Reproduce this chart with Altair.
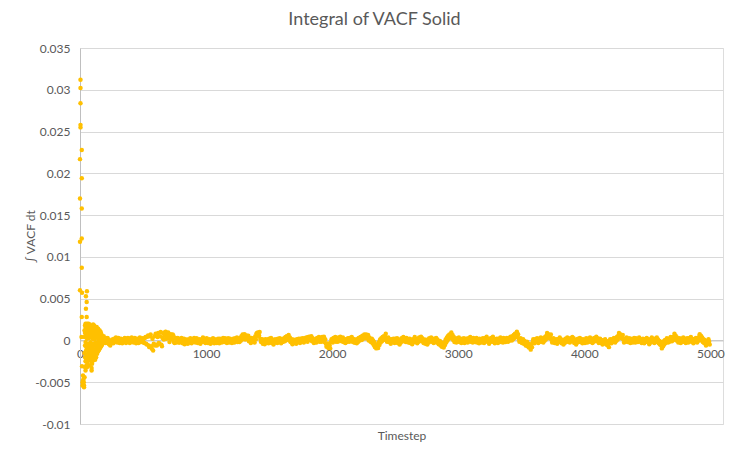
import altair as alt
import pandas as pd

# ---------------- data (values in units of 1e-5) ----------------
# first few timesteps: large decaying oscillation
early_t = [4, 4, 4, 4, 4, 14, 0, 14, 0, 14, 14, 0, 14, 0, 16, 14, 12,
           55, 47, 53, 47, 53,
           16, 40, 55, 24, 24, 20, 32, 32, 28, 36, 20, 30, 44, 50]
early_v = [3120, 3020, 2840, 2580, 2550, 2280, 2170, 1940, 1700, 1580, 1220, 1180, 870, 600, 570, 280, 40,
           590, 530, 460, 380, 280,
           -310, -320, -320, -420, -480, -500, -540, -560, -460, -440, -540, -500, -360, -300]

# dense cloud just after the start (timestep -> values)
cloud = {
    36: [120, -150, 40], 40: [180, -60, -200, 90], 44: [200, -20, 150, -250],
    48: [60, 190, -120, -240], 52: [160, -80, 100, -180], 56: [200, 20, -220, 140],
    60: [-100, 180, 50, -280], 64: [120, -40, 170, -160], 68: [200, -200, 80],
    72: [160, -120, 30, -240], 76: [90, 190, -60, -300], 80: [150, -180, 40, -90],
    84: [170, -20, 110, -140], 88: [-80, -150, -220, 60], 92: [-250, -330, -360, -190, 120],
    96: [-120, 70, 160, -280], 100: [140, -60, 20, -200, 180], 104: [100, -100, 50, -240, 190],
    108: [150, -40, 80, -160], 112: [60, -180, 10, 180], 116: [100, -120, 40, -220],
    120: [30, 130, -60, -230], 124: [90, -30, 150, -150], 128: [-50, 60, 150, -200],
    132: [40, -90, 160, -120], 136: [70, -20, 120, -160], 140: [-60, 60, 130, -100],
    144: [20, 140, -40, -130], 148: [40, -90, 120], 152: [-10, 100, -110],
    156: [60, 120, -80], 160: [-40, 90, -90], 164: [30, 100, -60], 168: [50, -70, 80],
    172: [-20, 60, -50], 176: [20, -50, 40], 180: [40, -30], 184: [-30, 30],
    188: [10, 50], 192: [-20, 20], 196: [30, -10],
}

# settled band: one row per 200 timesteps, sampled every 10 steps
# series A from t = 200, series B from t = 205
band_step = 10
band_a_start = 200
band_a = [
    [10, -20, 25, -45, -60, -30, 5, 20, -10, 15, -5, 10, -25, 0, 15, -10, 5, 20, 30, 10],
    [25, 35, 15, -10, 5, -20, 10, -5, 20, -15, 15, -30, 40, -50, 60, -80, 70, -100, -120, 50],
    [80, -60, 90, -40, 100, -70, 85, 60, 105, 40, 95, -20, 75, 10, 60, -30, 30, -10, 20, -25],
    [-10, 5, -20, -45, -30, -5, 10, -15, 0, 15, -5, 10, -10, 5, -20, -5, 10, 0, -15, 5],
    [-10, 5, -20, -5, 10, -10, 0, 15, 5, -15, 0, 20, 10, -5, 15, 25, 5, -10, 10, 20],
    [5, -15, 10, 25, 0, -20, 15, 30, 50, 70, 40, 10, 60, 20, -10, 5, 30, -15, 10, 50],
    [85, 95, 60, 20, -20, -40, -10, 15, -25, 0, 20, -5, -30, -15, 10, -20, 5, 20, -10, 0],
    [15, -15, 25, 40, 50, 30, 0, -20, -10, 10, -30, -5, 15, -15, 5, 20, -10, 10, 25, 0],
    [20, 40, 45, 15, -10, 5, -20, 10, 30, 5, -15, 20, 40, 10, -20, -40, -70, -90, -60, -20],
    [10, 30, 5, -15, 20, 35, 10, 25, 0, -20, 5, 15, -10, 20, 30, 5, -15, 10, -25, 0],
    [15, 30, 5, 40, 55, 35, 60, 70, 30, 0, 20, -15, -35, -55, -80, -95, -60, -20, 10, 25],
    [40, 50, 45, 20, 0, -20, -5, 15, -15, 5, 20, -10, -30, -15, 10, 25, 5, -10, 15, 30],
    [10, -15, -30, -10, 15, 5, -20, 0, 20, 35, 10, -10, 5, -25, -40, -15, 10, 25, 0, -15],
    [5, 20, -5, -25, -10, -40, -60, -75, -50, -20, 10, 35, 55, 70, 60, 30, 5, -20, 10, 25],
    [0, -20, 5, 20, -10, -30, -15, 10, 25, 5, -15, 10, 30, 15, -5, -25, 0, 20, 10, -10],
    [5, 25, 10, -15, -5, 15, 30, 10, -20, -35, -15, 5, 20, 0, -20, 10, 30, 15, -5, 20],
    [30, 10, 35, 50, 65, 80, 70, 40, 20, -10, 5, -20, -40, -25, -50, -70, -85, -75, -45, -20],
    [0, 15, -10, 5, 20, 0, -15, 10, 30, 45, 55, 40, 60, 35, 10, -10, 5, -20, -5, 15],
    [0, -20, -35, -15, 5, 20, 0, -15, 10, 25, 5, -10, -30, -15, 10, 20, -5, -20, 0, 15],
    [5, -10, 10, 20, 0, -15, 5, 20, 30, 10, -10, 5, -15, -30, -15, 0, -20, -40, -55, -45],
    [-20, 0, 15, -5, 10, 30, 45, 55, 40, 60, 30, 10, 20, 0, 15, -10, 5, 20, 10, -5],
    [10, 25, 15, 0, 20, 5, -15, 0, 15, -5, -20, -10, 10, 0, -15, 5, 20, 0, -20, -35],
    [-50, -60, -35, -10, 5, -10, 10, 20, 5, 25, 40, 45, 20, 0, 10, -10, 5, 20, 0, -15],
    [5, -10, 10, 25, 5, -15, 0, 15, -5, 10, 30, 40, 20, 0, -20, -30, -25, -10, -20, -15],
]
band_b_start = 205
band_b = [
    [-30, 30, -20, 0, -20, 10, -35, -15, 35, -25, 30, -30, 20, -35, -20, 30, -30, -15, -5, -30],
    [-15, -10, -25, 30, -35, 20, -30, 35, -20, 25, -25, 30, -40, 45, -60, 50, -70, 20, -40, -60],
    [-50, 40, -30, 50, -50, 30, 10, 100, 20, 80, 30, 50, 20, 70, -20, 25, -25, 30, -25, 15],
    [30, -35, 20, -5, 10, -40, -25, 25, -35, -20, 30, -25, 25, -30, 15, -40, -20, 35, 20, -30],
    [25, -30, 15, -40, -25, 25, -35, -20, -30, 20, -35, -15, -25, 30, -20, -10, -30, 25, -25, -15],
    [-30, 20, -25, -10, 35, 15, -20, -5, 10, 30, 75, 45, 25, 55, 25, -30, -5, 20, -25, 15],
    [55, 60, 100, -15, 15, -5, -45, -20, 10, -35, -15, 30, 5, -50, -25, 15, -30, -15, 25, -35],
    [-20, 20, -10, 5, 15, 65, 35, 15, -45, -25, 5, -40, -20, 20, -30, -15, 25, -25, -10, 35],
    [-15, 5, 10, 50, 25, -30, 15, -25, -5, 40, 20, -15, 5, 45, 15, -75, -35, -55, -95, 15],
    [-25, -5, 40, 20, -15, 0, 45, -10, 35, 15, -30, -20, 25, -15, -5, 40, 20, -25, 10, -35],
    [-20, -5, 40, 5, 20, 70, 25, 35, 65, 35, -15, 20, 0, -20, -45, -60, -90, -55, -25, -10],
    [5, 15, 80, -15, 35, 15, -40, -20, 20, -30, -15, 25, 5, -50, -25, -10, 40, 25, -20, -5],
    [-25, 20, 5, -45, -20, 40, 15, -35, -15, 0, 45, 25, -30, 10, -5, -50, -25, -10, 35, 20],
    [-30, -15, 30, 10, -45, -5, -25, -40, -85, -55, -25, 0, 20, 35, 95, 65, 40, 15, -25, -10],
    [35, 15, -30, -15, 25, 5, 20, -25, -10, 40, 20, -25, -5, -20, 30, 10, -35, -15, -25, 25],
    [-30, -10, 45, 20, -40, -20, -5, 45, 15, 0, 20, -30, -15, 35, 15, -25, -5, -20, 30, -15],
    [-5, 45, 0, 15, 30, 45, 105, 75, -15, 25, -30, 15, -5, -60, -15, -35, -50, -110, -80, 15],
    [-35, -20, 25, -30, -15, 35, 20, -25, -5, 10, 90, 75, 25, 70, -25, 25, -30, 15, -40, -20],
    [35, 15, 0, -50, -30, -15, 35, 20, -25, -10, 40, 25, 5, -50, -25, -15, 30, 15, -35, -20],
    [-30, 25, -25, -15, 35, 20, -30, -15, -5, 45, 25, -30, 20, 5, -50, -35, 15, -5, -20, -80],
    [15, -35, -20, 30, -25, -5, 10, 90, 75, 25, 65, -25, -15, 35, -20, 25, -30, -15, -25, 30],
    [-25, -10, -20, 35, -15, -30, 20, -35, -20, 30, 15, -45, -25, 35, 20, -30, -15, 35, 10, -5],
    [-15, -95, -70, -45, -30, 25, -25, -15, 40, -10, 5, 80, 55, 35, -25, 25, -30, -15, 35, 20],
    [-30, 25, -25, -10, 40, 20, -35, -20, 30, -25, -5, 75, 55, 35, 15, 5, -60, -45, 15, -50],
]

x_ticks = [0, 1000, 2000, 3000, 4000, 5000]
y_ticks = [-0.01, -0.005, 0, 0.005, 0.01, 0.015, 0.02, 0.025, 0.03, 0.035]
UNIT = 1e-5

recs = []
for t, v in zip(early_t, early_v):
    recs.append({"t": t, "v": v * UNIT})
for t, vals in cloud.items():
    for v in vals:
        recs.append({"t": t, "v": v * UNIT})
for start, rows in ((band_a_start, band_a), (band_b_start, band_b)):
    for k, row in enumerate(rows):
        for j, v in enumerate(row):
            recs.append({"t": start + k * 20 * band_step + j * band_step, "v": v * UNIT})
df = pd.DataFrame(recs)

FONT = "Lato"
GREY = "#595959"

chart = (
    alt.Chart(df)
    .mark_circle(size=20, opacity=1, color="#FFC000")
    .encode(
        x=alt.X(
            "t:Q",
            scale=alt.Scale(domain=[0, 5100], nice=False, zero=False),
            axis=alt.Axis(
                title="Timestep",
                values=x_ticks,
                format="d",
                grid=False,
                ticks=False,
                tickSize=0,
                offset=-83.6,
                labelPadding=8,
                labelFlush=False,
                labelFont=FONT,
                labelFontSize=12,
                labelColor=GREY,
                domainColor="#BFBFBF",
                titleFont=FONT,
                titleFontSize=12,
                titleFontWeight="normal",
                titleColor=GREY,
                titleY=94.6,
                titleBaseline="middle",
            ),
        ),
        y=alt.Y(
            "v:Q",
            scale=alt.Scale(domain=[-0.01, 0.035], nice=False, zero=False),
            axis=alt.Axis(
                title="∫ VACF dt",
                values=y_ticks,
                labelExpr="'' + datum.value",
                grid=True,
                gridColor="#D9D9D9",
                ticks=False,
                tickSize=0,
                labelPadding=10,
                labelFont=FONT,
                labelFontSize=12,
                labelColor=GREY,
                domainColor="#BFBFBF",
                titleFont=FONT,
                titleFontSize=12,
                titleFontWeight="normal",
                titleColor=GREY,
                titleX=-50,
                titleY=188,
                titleBaseline="middle",
            ),
        ),
    )
    .properties(
        width=643,
        height=376,
        title=alt.TitleParams(
            "Integral of VACF Solid",
            font=FONT,
            fontSize=18,
            fontWeight="normal",
            color=GREY,
            dx=-27,
            offset=13,
        ),
        autosize=alt.AutoSizeParams(type="none"),
        padding={"left": 72, "top": 40, "right": 22, "bottom": 30},
    )
    .configure_view(stroke=None)
    .configure(background="white")
)

chart.save("out.html", embed_options={"renderer": "svg", "actions": False})
